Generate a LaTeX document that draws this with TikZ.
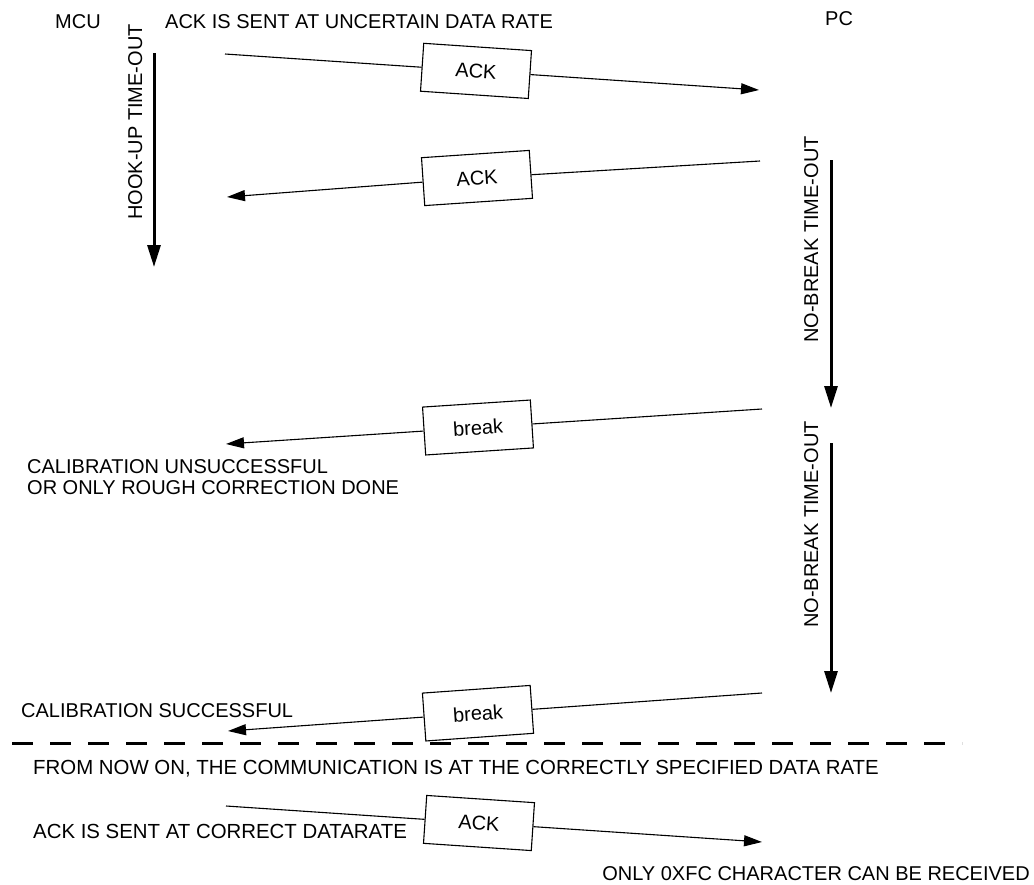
\documentclass[tikz,border=0pt]{standalone}
\usepackage{fontspec}
\setmainfont{Liberation Sans}
\usetikzlibrary{arrows.meta}

\begin{document}
\begin{tikzpicture}[x=1pt,y=-1pt,
  lbl/.style={font=\fontsize{20}{21}\selectfont, inner sep=0pt},
  widelbl/.style={font=\fontsize{20.4}{21}\selectfont, inner sep=0pt},
  msgbox/.style={draw, line width=1.1pt, fill=white, minimum width=108pt,
                 minimum height=48pt, inner sep=0pt, font=\fontsize{20}{21}\selectfont},
  msg/.style={line width=1.1pt, -{Triangle[length=18pt,width=11pt]}},
  timeout/.style={line width=3pt, -{Triangle[length=22pt,width=13pt]}},
  sep/.style={line width=3pt, dash pattern=on 21pt off 17pt}]
\useasboundingbox (0,0) rectangle (1034,884);

% headings
\node[lbl, anchor=base west] (mcu) at (55,28) {MCU};
\node[lbl, anchor=base west] (pc) at (825,25) {PC};
\node[lbl, anchor=base west] (uncertain) at (165,28) {ACK IS SENT AT UNCERTAIN DATA RATE};

% hook-up time-out on the MCU side
\coordinate (hookA) at (154,53);
\coordinate (hookB) at (154,267);
\draw[timeout] (hookA) -- (hookB);
\node[lbl, rotate=90, anchor=base west] (hooklbl) at (142,220) {HOOK-UP TIME-OUT};

% no-break time-outs on the PC side
\coordinate (nb1A) at (831,160);
\coordinate (nb1B) at (831,408);
\draw[timeout] (nb1A) -- (nb1B);
\node[lbl, rotate=90, anchor=base west] (nb1lbl) at (818,343) {NO-BREAK TIME-OUT};

\coordinate (nb2A) at (831,443);
\coordinate (nb2B) at (831,693);
\draw[timeout] (nb2A) -- (nb2B);
\node[lbl, rotate=90, anchor=base west] (nb2lbl) at (818,628) {NO-BREAK TIME-OUT};

% first ACK, MCU -> PC
\coordinate (m1s) at (225,54);
\coordinate (m1e) at (759,90);
\node[msgbox, rotate=-3.86] (ack1) at (476,70.9) {ACK};
\draw[msg] (m1s) -- (ack1) -- (m1e);

% ACK echoed, PC -> MCU
\coordinate (m2s) at (760,161);
\coordinate (m2e) at (227,197);
\node[msgbox, rotate=3.86] (ack2) at (477,178) {ACK};
\draw[msg] (m2s) -- (ack2) -- (m2e);

% first break, PC -> MCU
\coordinate (m3s) at (762,409);
\coordinate (m3e) at (226,444);
\node[msgbox, rotate=3.74] (brk1) at (478,427.5) {break};
\draw[msg] (m3s) -- (brk1) -- (m3e);
\node[lbl, anchor=base west] (fail1) at (27,473) {CALIBRATION UNSUCCESSFUL};
\node[lbl, anchor=base west] (fail2) at (27,494) {OR ONLY ROUGH CORRECTION DONE};

% second break, PC -> MCU
\coordinate (m4s) at (762,693);
\coordinate (m4e) at (228,731);
\node[msgbox, rotate=4.07] (brk2) at (478,713.2) {break};
\draw[msg] (m4s) -- (brk2) -- (m4e);
\node[lbl, anchor=base west] (ok) at (21,717) {CALIBRATION SUCCESSFUL};

% separator
\coordinate (sepA) at (12,743);
\coordinate (sepB) at (962,743);
\draw[sep] (sepA) -- (sepB);
\node[widelbl, anchor=base west] (fromnow) at (33,774) {FROM NOW ON, THE COMMUNICATION IS AT THE CORRECTLY SPECIFIED DATA RATE};

% ACK at the correct data rate, MCU -> PC
\coordinate (m5s) at (226,806);
\coordinate (m5e) at (762,842);
\node[msgbox, rotate=-3.84] (ack3) at (479,823) {ACK};
\draw[msg] (m5s) -- (ack3) -- (m5e);
\node[widelbl, anchor=base west] (correct) at (33,838) {ACK IS SENT AT CORRECT DATARATE};
\node[lbl, anchor=base east] (only) at (1030,880) {ONLY 0XFC CHARACTER CAN BE RECEIVED};
\end{tikzpicture}
\end{document}
